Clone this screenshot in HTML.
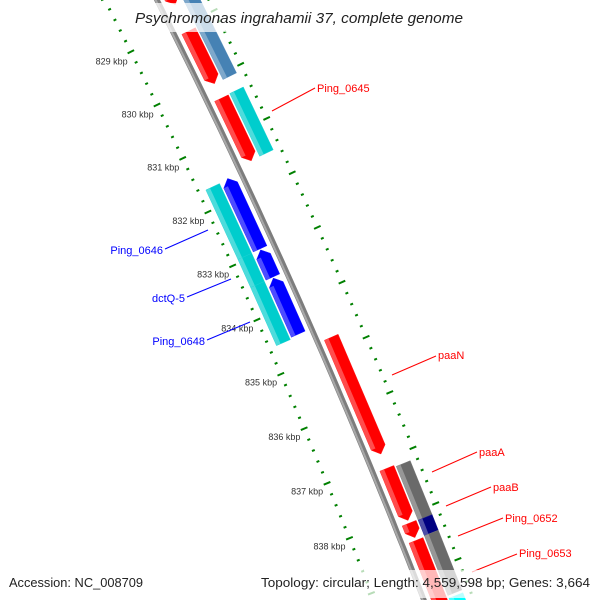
<!DOCTYPE html>
<html><head><meta charset="utf-8">
<style>
html,body{margin:0;padding:0;background:#fff;width:600px;height:600px;overflow:hidden;}
svg{display:block;overflow:hidden;font-family:"Liberation Sans","DejaVu Sans",sans-serif;}
</style></head>
<body>
<svg id="map" width="600" height="600" viewBox="0 0 600 600" xmlns="http://www.w3.org/2000/svg">
  <g id="ticks"></g>
  <g id="backbone"></g>
  <g id="features"></g>
  <g id="labels"></g>
  <rect x="128" y="3" width="342" height="29" fill="#fff" fill-opacity="0.72"/>
  <text x="299" y="23" text-anchor="middle" font-size="14.5" font-style="italic" fill="#222" textLength="328" lengthAdjust="spacingAndGlyphs">Psychromonas ingrahamii 37, complete genome</text>
  <rect x="4" y="570" width="145" height="28" fill="#fff" fill-opacity="0.72"/>
  <text x="9" y="587" font-size="12.5" fill="#222" textLength="134" lengthAdjust="spacingAndGlyphs">Accession: NC_008709</text>
  <rect x="255" y="570" width="341" height="28" fill="#fff" fill-opacity="0.72"/>
  <text x="261" y="587" font-size="12.5" fill="#222" textLength="329" lengthAdjust="spacingAndGlyphs">Topology: circular; Length: 4,559,598 bp; Genes: 3,664</text>
</svg>
<script>
// ---- data ----
const featStart = [828.0, 829.12, 830.37, 834.77, 837.15, 838.14, 838.45, 828.3, 830.36, 837.18, 838.15, 838.43, 839.55, 831.63, 832.95, 833.47, 831.65, 832.94, 833.46];
const featEnd   = [828.62, 830.10, 831.53, 836.89, 838.09, 838.40, 839.8, 830.10, 831.52, 838.15, 838.43, 839.50, 840.2, 832.93, 833.45, 834.50, 832.94, 833.46, 834.53];
const featLane  = [1, 1, 1, 1, 1, 1, 1, 2, 2, 2, 2, 2, 2, -1, -1, -1, -2, -2, -2];
const featArrow = [1, 1, 1, 1, 1, 1, 1, 0, 0, 0, 0, 0, 0, -1, -1, -1, 0, 0, 0];
const featColor = ["#ff0000","#ff0000","#ff0000","#ff0000","#ff0000","#ff0000","#ff0000","#4682b4","#00cdcd","#6a6a6a","#000080","#6a6a6a","#00ffff","#0000ff","#0000ff","#0000ff","#00cdcd","#00cdcd","#00cdcd"];
const featName  = ["gene-828","gene-829","ping-0645-partner","paaN","paaA-partner","paaB-partner","ping-0653-partner","gene-steelblue","ping-0645","paaA","paaB","ping-0652","ping-0653","blue-gene-1","blue-gene-2","blue-gene-3","ping-0646","dctq-5","ping-0648"];
const tickStart = 828.0;
const tickEnd = 840.2;
const tickLabelKbp = [829, 830, 831, 832, 833, 834, 835, 836, 837, 838];
const labelText = ["Ping_0645","paaN","paaA","paaB","Ping_0652","Ping_0653","Ping_0646","dctQ-5","Ping_0648"];
const labelColor = ["red","red","red","red","red","red","blue","blue","blue"];
const labelX = [317, 438, 479, 493, 505, 519, 163, 185, 205];
const labelY = [88, 355, 452, 487, 518, 553, 250, 298, 341];
const labelAnchor = ["start","start","start","start","start","start","end","end","end"];
const lineX1 = [272, 392, 432, 446, 458, 472, 165, 187, 207];
const lineY1 = [111, 375, 472, 506, 536, 572, 249, 297, 340];
const lineX2 = [315, 436, 477, 491, 503, 517, 208, 231, 250];
const lineY2 = [88, 356, 452, 487, 518, 554, 230, 279, 322];

// ---- geometry ----
const CX = -6007, CY = 3102, R0 = 6900.5, A0 = -25.93, DA = 0.4955;
function ang(k){ return (A0 + (k - 830) * DA) * Math.PI / 180; }
function pt(k, r){ const a = ang(k); return [CX + (R0 + r) * Math.cos(a), CY + (R0 + r) * Math.sin(a)]; }
const NS = "http://www.w3.org/2000/svg";
function mk(tag, attrs, parent){ const e = document.createElementNS(NS, tag); for (const k in attrs) e.setAttribute(k, attrs[k]); parent.appendChild(e); return e; }
const laneR = {1:[7,22], 2:[24,39], "-1":[-22,-7], "-2":[-39,-24]};

// backbone
const bb = document.getElementById('backbone');
let d = "";
for (let k = 827; k <= 841; k += 0.25) { const p = pt(k, 0); d += (d ? "L" : "M") + p[0].toFixed(1) + "," + p[1].toFixed(1); }
const bbOuter = mk('path', {d: d, fill: "none", stroke: "#7d7d7d", "stroke-width": 5.5}, bb);


let d2 = "";
for (let k = 827; k <= 841; k += 0.25) { const p = pt(k, -1.2); d2 += (d2 ? "L" : "M") + p[0].toFixed(1) + "," + p[1].toFixed(1); }
const bbHi = mk('path', {d: d2, fill: "none", stroke: "#a8a8a8", "stroke-width": 2}, bb);



// ticks
const tg = document.getElementById('ticks');
const nT = Math.round((tickEnd - tickStart) / 0.2);
for (let i = 0; i <= nT; i++) {
  const k = tickStart + i * 0.2;
  const major = Math.abs(k - Math.round(k)) < 0.01;
  [1, -1].forEach(s => {
    const c = 46.5 * s, h = major ? 3.6 : 1.5;
    const a = pt(k, c - h), b = pt(k, c + h);
    const ln = mk('line', {x1: a[0], y1: a[1], x2: b[0], y2: b[1], stroke: "#008000", "stroke-width": 2}, tg);
    
    
  });
}
tickLabelKbp.forEach(k => {
  const p = pt(k, -68);
  const t = mk('text', {x: p[0], y: p[1] + 3, "text-anchor": "middle", "font-size": 9, fill: "#333"}, tg);
  
  
  t.textContent = k + " kbp";
});

// features
const fg = document.getElementById('features');
function lighten(hex, f){ const n = parseInt(hex.slice(1), 16); let r = n >> 16, g = (n >> 8) & 255, b = n & 255; r = Math.round(r + (255 - r) * f); g = Math.round(g + (255 - g) * f); b = Math.round(b + (255 - b) * f); return "rgb(" + r + "," + g + "," + b + ")"; }
function shape(s, e, r1, r2, arrow){
  const head = 0.12, pts = [];
  const rm = (r1 + r2) / 2;
  if (arrow === 1) {
    const eb = Math.max(s, e - head);
    pts.push(pt(s, r1), pt(eb, r1), pt(e, rm), pt(eb, r2), pt(s, r2));
  } else if (arrow === -1) {
    const sb = Math.min(e, s + head);
    pts.push(pt(s, rm), pt(sb, r1), pt(e, r1), pt(e, r2), pt(sb, r2));
  } else {
    pts.push(pt(s, r1), pt(e, r1), pt(e, r2), pt(s, r2));
  }
  return pts.map(p => p[0].toFixed(1) + "," + p[1].toFixed(1)).join(" ");
}
for (let i = 0; i < featStart.length; i++) {
  const lr = laneR[featLane[i]];
  const g = mk('g', {}, fg);
  
  
  mk('polygon', {points: shape(featStart[i], featEnd[i], lr[0], lr[1], featArrow[i]), fill: featColor[i], stroke: lighten(featColor[i], 0.1), "stroke-width": 0.5}, g);
  const w = lr[1] - lr[0];
  const hs = featArrow[i] === -1 ? featStart[i] + 0.12 : featStart[i];
  const he = featArrow[i] === 1 ? featEnd[i] - 0.12 : featEnd[i];
  mk('polygon', {points: shape(hs, he, lr[0], lr[0] + w * 0.3, 0), fill: lighten(featColor[i], 0.3)}, g);
}

// labels
const lg = document.getElementById('labels');
for (let i = 0; i < labelText.length; i++) {
  const l = mk('line', {x1: lineX1[i], y1: lineY1[i], x2: lineX2[i], y2: lineY2[i], stroke: labelColor[i], "stroke-width": 1}, lg);
  
  
  const t = mk('text', {x: labelX[i], y: labelY[i] + 4, "text-anchor": labelAnchor[i], "font-size": 11, fill: labelColor[i]}, lg);
  
  
  t.textContent = labelText[i];
}
</script>
</body></html>
